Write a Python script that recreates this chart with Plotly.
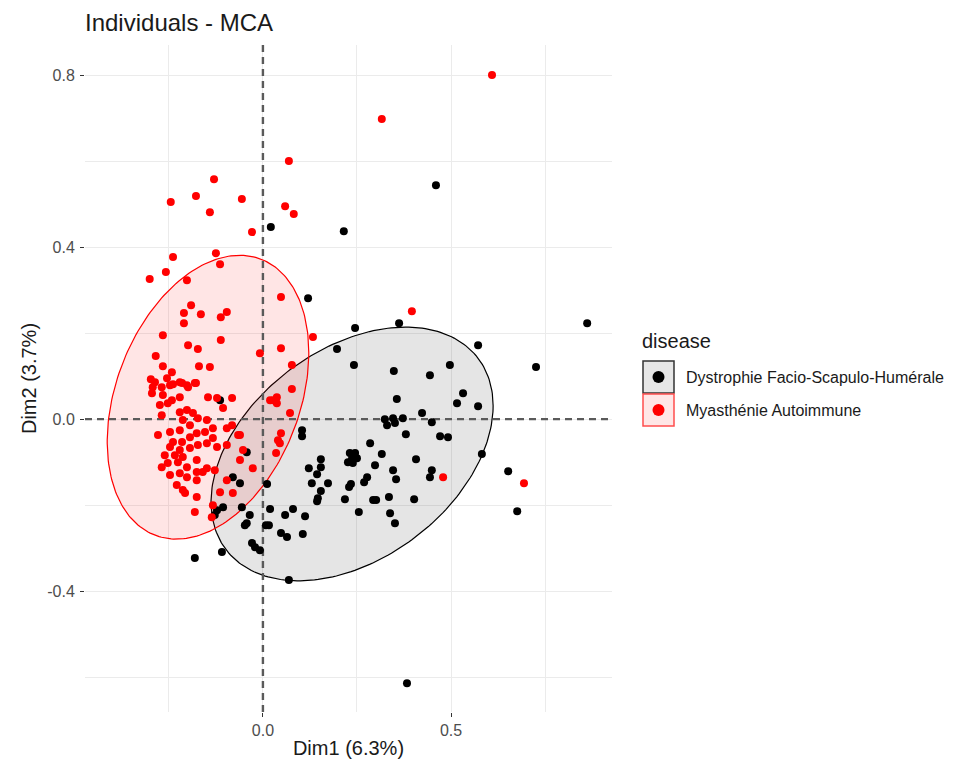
import numpy as np
import plotly.graph_objects as go

# ---------------- data (MCA individual coordinates) ----------------
group_names = ["Dystrophie Facio-Scapulo-Humérale", "Myasthénie Autoimmune"]

fshd_dim1 = [0.021, 0.215, 0.460, 0.120, 0.245, 0.362, 0.197, 0.242, 0.348, 0.444,
             0.356, 0.862, 0.572, 0.726, 0.497, 0.532, 0.516, 0.572, 0.449, 0.471,
             0.492, 0.582, 0.652, 0.676, 0.449, 0.444, 0.423, 0.324, 0.346, 0.372,
             0.330, 0.351, 0.380, 0.104, 0.104, 0.285, 0.231, 0.245, 0.237, 0.250,
             0.226, 0.239, 0.316, 0.298, 0.407, 0.154, 0.122, 0.154, 0.144, 0.346,
             0.354, 0.277, 0.269, 0.130, 0.173, 0.234, 0.229, 0.154, 0.146, 0.144,
             0.218, 0.293, 0.301, 0.335, 0.402, 0.255, 0.338, 0.351, 0.019, 0.011,
             0.059, 0.080, 0.112, 0.008, 0.016, 0.048, 0.064, 0.106, 0.069, -0.114,
             -0.043, -0.080, -0.061, -0.056, -0.106, -0.122, -0.128, -0.035, -0.043, -0.048,
             -0.029, -0.021, -0.008, -0.109, -0.181, 0.383]
fshd_dim2 = [0.447, 0.437, 0.544, 0.281, 0.212, 0.223, 0.163, 0.126, 0.112, 0.102,
             0.047, 0.223, 0.172, 0.121, 0.126, 0.060, 0.037, 0.030, -0.007, -0.040,
             -0.042, -0.081, -0.121, -0.214, -0.119, -0.135, 0.014, 0.000, 0.002, 0.002,
             -0.014, -0.009, -0.035, -0.026, -0.040, -0.056, -0.079, -0.079, -0.091, -0.091,
             -0.100, -0.102, -0.081, -0.107, -0.093, -0.093, -0.114, -0.112, -0.128, -0.119,
             -0.140, -0.135, -0.147, -0.149, -0.149, -0.151, -0.158, -0.167, -0.184, -0.191,
             -0.186, -0.188, -0.188, -0.181, -0.186, -0.216, -0.219, -0.242, -0.209, -0.151,
             -0.223, -0.209, -0.226, -0.247, -0.247, -0.265, -0.274, -0.267, -0.374, 0.044,
             -0.077, -0.135, -0.149, -0.205, -0.205, -0.212, -0.223, -0.223, -0.242, -0.247,
             -0.288, -0.298, -0.305, -0.309, -0.323, -0.614]

mg_dim1 = [0.069, -0.130, -0.178, -0.245, -0.141, -0.056, 0.059, 0.082, -0.029, 0.609,
           0.316, -0.239, -0.125, -0.114, -0.258, -0.301, -0.202, -0.191, -0.210, -0.165,
           -0.210, -0.096, -0.112, -0.266, -0.112, -0.199, -0.173, -0.008, 0.048, 0.048,
           -0.285, -0.266, -0.242, -0.170, -0.141, -0.298, -0.255, -0.239, -0.215, -0.199,
           -0.178, -0.293, 0.133, 0.396, 0.077, 0.077, 0.037, 0.694, 0.479, 0.019,
           0.037, 0.072, 0.048, 0.040, 0.045, 0.035, -0.287, -0.269, -0.247, -0.221,
           -0.202, -0.181, -0.295, -0.266, -0.242, -0.221, -0.274, -0.253, -0.146, -0.122,
           -0.082, -0.106, -0.202, -0.186, -0.221, -0.269, -0.213, -0.173, -0.149, -0.194,
           -0.133, -0.096, -0.066, -0.082, -0.279, -0.247, -0.221, -0.194, -0.176, -0.154,
           -0.133, -0.239, -0.215, -0.247, -0.221, -0.194, -0.173, -0.149, -0.122, -0.096,
           -0.261, -0.234, -0.213, -0.176, -0.253, -0.226, -0.202, -0.269, -0.149, -0.160,
           -0.128, -0.176, -0.247, -0.221, -0.202, -0.176, -0.061, -0.027, -0.229, -0.213,
           -0.207, -0.176, -0.096, -0.080, -0.114, -0.181, -0.133, -0.136, -0.061, -0.053,
           0.027]
mg_dim2 = [0.600, 0.558, 0.519, 0.505, 0.481, 0.512, 0.495, 0.477, 0.435, 0.800,
           0.698, 0.377, 0.386, 0.360, 0.342, 0.326, 0.323, 0.265, 0.247, 0.244,
           0.223, 0.249, 0.237, 0.195, 0.184, 0.172, 0.163, 0.153, 0.284, 0.165,
           0.147, 0.123, 0.109, 0.123, 0.121, 0.093, 0.095, 0.081, 0.084, 0.074,
           0.084, 0.074, 0.191, 0.251, 0.126, 0.070, 0.051, -0.149, -0.135, 0.044,
           0.037, 0.014, -0.033, -0.049, -0.056, -0.079, 0.086, 0.074, 0.079, 0.086,
           0.079, 0.084, 0.060, 0.056, 0.044, 0.051, 0.033, 0.037, 0.051, 0.049,
           0.049, 0.026, 0.021, 0.014, 0.016, 0.009, -0.002, 0.002, -0.002, -0.014,
           -0.021, -0.021, -0.037, -0.014, -0.037, -0.030, -0.026, -0.042, -0.033, -0.030,
           -0.044, -0.053, -0.053, -0.065, -0.072, -0.067, -0.060, -0.056, -0.065, -0.060,
           -0.084, -0.084, -0.088, -0.095, -0.102, -0.100, -0.112, -0.112, -0.114, -0.123,
           -0.119, -0.123, -0.130, -0.126, -0.135, -0.142, -0.095, -0.114, -0.153, -0.165,
           -0.172, -0.181, -0.142, -0.172, -0.170, -0.216, -0.200, -0.228, -0.037, -0.072,
           0.044]

# normal-probability ellipses: centre and 2x2 shape matrix (per group)
fshd_ellipse_center = [0.237, -0.081]
fshd_ellipse_shape = [[0.1406, 0.0420], [0.0420, 0.0870]]
mg_ellipse_center = [-0.146, 0.051]
mg_ellipse_shape = [[0.0718, 0.0277], [0.0277, 0.1089]]

x_tick_vals = [0.0, 0.5]
x_tick_text = ["0.0", "0.5"]
x_minor_vals = [-0.25, 0.25, 0.75]
y_tick_vals = [-0.4, 0.0, 0.4, 0.8]
y_tick_text = ["-0.4", "0.0", "0.4", "0.8"]
y_minor_vals = [-0.6, -0.2, 0.2, 0.6]
x_range = [-0.473, 0.928]
y_range = [-0.681, 0.870]

# ---------------- styling / layout ----------------
W, H = 968, 762
OFF = 8  # page body margin offset of the rendered figure
# desired on-screen panel box
P_LEFT, P_TOP, P_RIGHT, P_BOTTOM = 85, 45, 612, 712
ML = P_LEFT - OFF
MT = P_TOP - OFF
MR = W - (P_RIGHT - OFF)
MB = H - (P_BOTTOM - OFF)
FONT = "Liberation Sans, Arial, Helvetica, sans-serif"
PW, PH = P_RIGHT - P_LEFT, P_BOTTOM - P_TOP


def px_x(px):
    return (px - P_LEFT) / PW


def px_y(py):
    return (P_BOTTOM - py) / PH


def ellipse_path(center, shape, n=240):
    t = np.linspace(0, 2 * np.pi, n)
    L = np.linalg.cholesky(np.array(shape))
    pts = np.array(center)[:, None] + L @ np.vstack([np.cos(t), np.sin(t)])
    return pts[0], pts[1]


fig = go.Figure()

ex, ey = ellipse_path(fshd_ellipse_center, fshd_ellipse_shape)
fig.add_trace(go.Scatter(x=ex, y=ey, mode="lines", fill="toself",
                         fillcolor="rgba(0,0,0,0.1)",
                         line=dict(color="black", width=1.2),
                         hoverinfo="skip", showlegend=False))
ex, ey = ellipse_path(mg_ellipse_center, mg_ellipse_shape)
fig.add_trace(go.Scatter(x=ex, y=ey, mode="lines", fill="toself",
                         fillcolor="rgba(255,0,0,0.1)",
                         line=dict(color="red", width=1.2),
                         hoverinfo="skip", showlegend=False))

# dashed reference lines through the origin
ref_line = dict(color="#5a5a5a", width=2.4, dash="7px,5px")
fig.add_trace(go.Scatter(x=[0, 0], y=y_range, mode="lines", line=ref_line,
                         hoverinfo="skip", showlegend=False, cliponaxis=True))
fig.add_trace(go.Scatter(x=x_range, y=[0, 0], mode="lines", line=ref_line,
                         hoverinfo="skip", showlegend=False, cliponaxis=True))

fig.add_trace(go.Scatter(x=fshd_dim1, y=fshd_dim2, mode="markers", name=group_names[0],
                         marker=dict(color="black", size=8), showlegend=False))
fig.add_trace(go.Scatter(x=mg_dim1, y=mg_dim2, mode="markers", name=group_names[1],
                         marker=dict(color="red", size=8), showlegend=False))

shapes = []

# manual legend (ggplot style keys)
key_fill = ["#e6e6e6", "#ffe6e6"]
key_line = ["#333333", "#ff4d4d"]
key_dot = ["black", "red"]
key_tops = [361, 394]
annotations = [dict(text="Individuals - MCA", xref="paper", yref="paper",
                    x=px_x(84), y=px_y(8), xanchor="left", yanchor="top",
                    borderpad=0, showarrow=False,
                    font=dict(family=FONT, size=24, color="#1a1a1a")),
               dict(text="disease", xref="paper", yref="paper", x=px_x(640), y=px_y(341),
                    xanchor="left", yanchor="middle", showarrow=False,
                    font=dict(family=FONT, size=20, color="#1a1a1a"))]
for i in range(2):
    top = key_tops[i]
    shapes.append(dict(type="rect", xref="paper", yref="paper",
                       x0=px_x(643), x1=px_x(674), y0=px_y(top + 32), y1=px_y(top),
                       fillcolor=key_fill[i], line=dict(color=key_line[i], width=1.5)))
    cy = top + 16
    shapes.append(dict(type="circle", xref="paper", yref="paper",
                       x0=px_x(652.5), x1=px_x(664.5), y0=px_y(cy + 6), y1=px_y(cy - 6),
                       fillcolor=key_dot[i], line=dict(width=0)))
    annotations.append(dict(text=group_names[i], xref="paper", yref="paper",
                            x=px_x(684), y=px_y(cy), xanchor="left", yanchor="middle",
                            showarrow=False,
                            font=dict(family=FONT, size=16, color="#1a1a1a")))

axis_common = dict(showgrid=True, gridcolor="#ebebeb", gridwidth=1.3, zeroline=False,
                   showline=False, ticks="outside", ticklen=4, tickwidth=1,
                   tickcolor="#333333", automargin=False,
                   tickfont=dict(family=FONT, size=16, color="#4d4d4d"))

fig.update_layout(
    width=W, height=H,
    margin=dict(l=ML, r=MR, t=MT, b=MB),
    paper_bgcolor="white", plot_bgcolor="white",
    font=dict(family=FONT),
    xaxis=dict(range=x_range, tickmode="array", tickvals=x_tick_vals, ticktext=x_tick_text,
               minor=dict(tickmode="array", tickvals=x_minor_vals, showgrid=True,
                          gridcolor="#ebebeb", gridwidth=0.7, ticks=""),
               title=dict(text="Dim1 (6.3%)", standoff=2,
                          font=dict(family=FONT, size=20, color="#1a1a1a")),
               **axis_common),
    yaxis=dict(range=y_range, tickmode="array", tickvals=y_tick_vals, ticktext=y_tick_text,
               minor=dict(tickmode="array", tickvals=y_minor_vals, showgrid=True,
                          gridcolor="#ebebeb", gridwidth=0.7, ticks=""),
               ticklabelstandoff=2,
               title=dict(text="Dim2 (3.7%)", standoff=5,
                          font=dict(family=FONT, size=20, color="#1a1a1a")),
               **axis_common),
    shapes=shapes,
    annotations=annotations,
    showlegend=False,
)

fig.write_html("out.html")
